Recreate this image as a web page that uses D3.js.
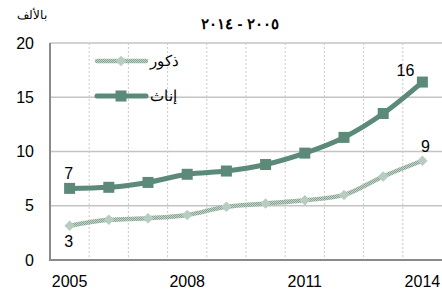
<!DOCTYPE html>
<html>
<head>
<meta charset="utf-8">
<script src="https://cdn.jsdelivr.net/npm/d3@7"></script>
<style>
  body { margin: 0; background: #fff; }
  text { font-family: "Liberation Sans", Arial, sans-serif; }
</style>
</head>
<body>
<div id="chart"></div>
<script>
var width = 442;
var height = 291;

var years = [2005, 2006, 2007, 2008, 2009, 2010, 2011, 2012, 2013, 2014];
var males = [3.15, 3.7, 3.85, 4.15, 4.9, 5.2, 5.5, 6.0, 7.7, 9.15];
var females = [6.6, 6.7, 7.15, 7.9, 8.2, 8.8, 9.85, 11.3, 13.5, 16.4];
var yTicks = [0, 5, 10, 15, 20];
var xTickYears = [2005, 2008, 2011, 2014];
var maleName = "ذكور";
var femaleName = "إناث";
var title = "٢٠٠٥ - ٢٠١٤";
var unit = "بالألف";

var dark = "#5b8a78";
var light = "#b7cdc1";

var svg = d3.select("#chart")
  .append("svg")
  .attr("width", width)
  .attr("height", height);

// texture for the males line
var defs = svg.append("defs");
var pat = defs.append("pattern")
  .attr("id", "hatch")
  .attr("patternUnits", "userSpaceOnUse")
  .attr("width", 2)
  .attr("height", 2);
pat.append("rect").attr("width", 2).attr("height", 2).attr("fill", "#c2d3c9");
pat.append("rect").attr("width", 1).attr("height", 1).attr("fill", "#87a394");
pat.append("rect").attr("x", 1).attr("y", 1).attr("width", 1).attr("height", 1).attr("fill", "#87a394");

var x = d3.scaleBand().domain(years).range([50, 442]);
var y = d3.scaleLinear().domain([0, 20]).range([260, 43]);

// horizontal grid
svg.selectAll(".hgrid")
  .data(yTicks.slice(1))
  .enter()
  .append("line")
  .attr("x1", 50)
  .attr("x2", 442)
  .attr("y1", function(d){ return y(d); })
  .attr("y2", function(d){ return y(d); })
  .attr("stroke", "#c4c4c4")
  .attr("stroke-width", 1.5);

// vertical dotted grid between categories
svg.selectAll(".vgrid")
  .data(years.slice(1))
  .enter()
  .append("line")
  .attr("x1", function(d){ return x(d); })
  .attr("x2", function(d){ return x(d); })
  .attr("y1", y(20))
  .attr("y2", y(0))
  .attr("stroke", "#c8c8c8")
  .attr("stroke-width", 1)
  .attr("stroke-dasharray", "2,2");

// axes
svg.append("line")
  .attr("x1", 50).attr("x2", 50)
  .attr("y1", y(20)).attr("y2", y(0) + 1)
  .attr("stroke", "#8a8a8a").attr("stroke-width", 2);
svg.append("line")
  .attr("x1", 49).attr("x2", 442)
  .attr("y1", y(0)).attr("y2", y(0))
  .attr("stroke", "#8a8a8a").attr("stroke-width", 2);

// y tick labels
svg.selectAll(".ylab")
  .data(yTicks)
  .enter()
  .append("text")
  .text(function(d){ return d; })
  .attr("x", 34)
  .attr("y", function(d){ return y(d) + 5.5; })
  .attr("text-anchor", "end")
  .attr("font-size", "16px")
  .attr("fill", "#000");

// x tick labels
svg.selectAll(".xlab")
  .data(xTickYears)
  .enter()
  .append("text")
  .text(function(d){ return d; })
  .attr("x", function(d){ return x(d) + x.bandwidth() / 2; })
  .attr("y", 287)
  .attr("text-anchor", "middle")
  .attr("font-size", "16px")
  .attr("fill", "#000");

var line = d3.line()
  .x(function(d, i){ return x(years[i]) + x.bandwidth() / 2; })
  .y(function(d){ return y(d); })
  .curve(d3.curveMonotoneX);

// males
svg.append("path")
  .datum(males)
  .attr("d", line)
  .attr("fill", "none")
  .attr("stroke", "url(#hatch)")
  .attr("stroke-width", 4.5);

svg.selectAll(".mdot")
  .data(males)
  .enter()
  .append("path")
  .attr("d", d3.symbol().type(d3.symbolDiamond2).size(70))
  .attr("transform", function(d, i){
    return "translate(" + (x(years[i]) + x.bandwidth() / 2) + "," + y(d) + ")";
  })
  .attr("fill", light);

// females
svg.append("path")
  .datum(females)
  .attr("d", line)
  .attr("fill", "none")
  .attr("stroke", dark)
  .attr("stroke-width", 5);

svg.selectAll(".fdot")
  .data(females)
  .enter()
  .append("rect")
  .attr("x", function(d, i){ return x(years[i]) + x.bandwidth() / 2 - 5.5; })
  .attr("y", function(d){ return y(d) - 5.5; })
  .attr("width", 11)
  .attr("height", 11)
  .attr("fill", dark);

// data labels
var cx = function(i){ return x(years[i]) + x.bandwidth() / 2; };
svg.append("text").text(Math.round(females[0]))
  .attr("x", cx(0) - 1).attr("y", y(females[0]) - 9)
  .attr("text-anchor", "middle").attr("font-size", "16px");
svg.append("text").text(Math.round(females[9]))
  .attr("x", cx(9) - 17).attr("y", y(females[9]) - 6)
  .attr("text-anchor", "middle").attr("font-size", "16px");
svg.append("text").text(Math.floor(males[0]))
  .attr("x", cx(0) - 1).attr("y", y(males[0]) + 21)
  .attr("text-anchor", "middle").attr("font-size", "16px");
svg.append("text").text(Math.floor(males[9]))
  .attr("x", cx(9) + 3).attr("y", y(males[9]) - 9)
  .attr("text-anchor", "middle").attr("font-size", "16px");

// legend
var legend = [
  { name: maleName, y: 61, stroke: "url(#hatch)", w: 4.5, marker: "diamond" },
  { name: femaleName, y: 96, stroke: dark, w: 5, marker: "square" }
];
legend.forEach(function(l){
  svg.append("line")
    .attr("x1", 97).attr("x2", 146)
    .attr("y1", l.y).attr("y2", l.y)
    .attr("stroke", l.stroke)
    .attr("stroke-width", l.w)
    .attr("stroke-linecap", "round");
  if (l.marker == "diamond") {
    svg.append("path")
      .attr("d", d3.symbol().type(d3.symbolDiamond2).size(70))
      .attr("transform", "translate(121," + l.y + ")")
      .attr("fill", light);
  } else {
    svg.append("rect")
      .attr("x", 115.5).attr("y", l.y - 5.5)
      .attr("width", 11).attr("height", 11)
      .attr("fill", dark);
  }
  svg.append("text")
    .text(l.name)
    .attr("x", 150)
    .attr("y", l.y + 5)
    .attr("font-size", "15px")
    .attr("text-anchor", "start");
});

// title and unit
svg.append("text")
  .text(title)
  .attr("x", 240)
  .attr("y", 29)
  .attr("text-anchor", "middle")
  .attr("font-size", "15px")
  .attr("font-weight", "bold")
  .attr("letter-spacing", "2px");

svg.append("text")
  .text(unit)
  .attr("x", 47)
  .attr("y", 19)
  .attr("text-anchor", "end")
  .attr("font-size", "12px");
</script>
</body>
</html>
